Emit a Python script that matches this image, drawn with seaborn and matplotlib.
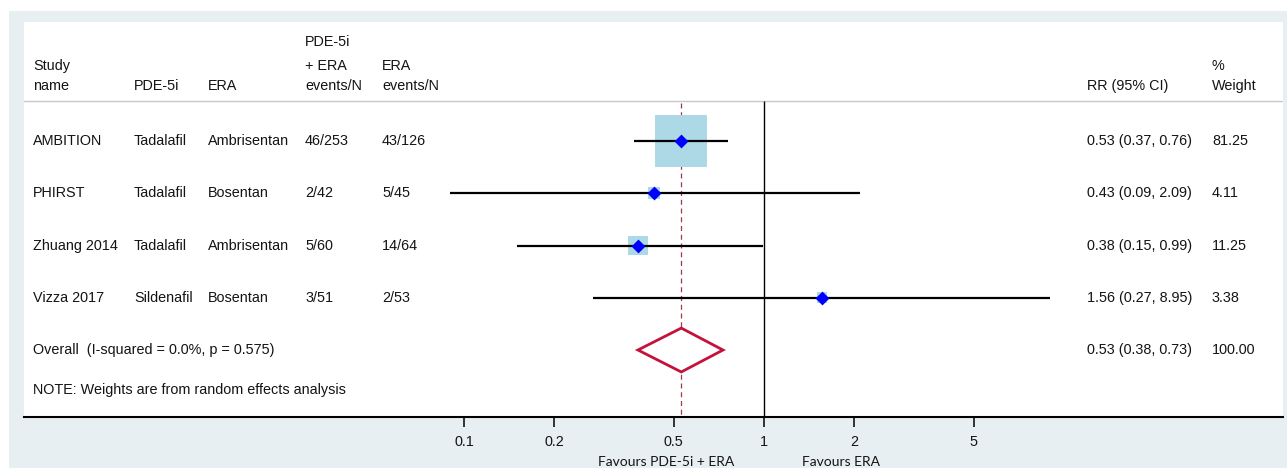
import matplotlib
matplotlib.use("Agg")
import matplotlib.pyplot as plt
from matplotlib.patches import Rectangle
import seaborn as sns
import pandas as pd

# ---- study data -------------------------------------------------------
studies = ["AMBITION", "PHIRST", "Zhuang 2014", "Vizza 2017"]
pde5i = ["Tadalafil", "Tadalafil", "Tadalafil", "Sildenafil"]
era = ["Ambrisentan", "Bosentan", "Ambrisentan", "Bosentan"]
combo_events = ["46/253", "2/42", "5/60", "3/51"]
era_events = ["43/126", "5/45", "14/64", "2/53"]
rr = [0.53, 0.43, 0.38, 1.56]
ci_low = [0.37, 0.09, 0.15, 0.27]
ci_high = [0.76, 2.09, 0.99, 8.95]
weight = [81.25, 4.11, 11.25, 3.38]

overall_rr = 0.53
overall_low = 0.38
overall_high = 0.73
overall_weight = 100.00
overall_label = "Overall  (I-squared = 0.0%, p = 0.575)"
note = "NOTE: Weights are from random effects analysis"

xticks = [0.1, 0.2, 0.5, 1, 2, 5]
xtick_labels = ["0.1", "0.2", "0.5", "1", "2", "5"]

df = pd.DataFrame({"study": studies, "rr": rr, "lo": ci_low, "hi": ci_high,
                   "weight": weight, "row": range(len(studies))})

# ---- figure -----------------------------------------------------------
sns.set_theme(style="white")
plt.rcParams["font.family"] = ["Liberation Sans", "DejaVu Sans"]

W, H = 1287, 468
fig = plt.figure(figsize=(W / 100, H / 100), dpi=100, facecolor="white")
fig.patches.append(Rectangle((9 / W, 0), (W - 9) / W, (H - 11) / H,
                             transform=fig.transFigure, facecolor="#e8eff2",
                             edgecolor="none", zorder=-5))

ax = fig.add_axes([24 / W, (H - 417) / H, 1259 / W, 395 / H])
ax.set_zorder(1)
ax.set_facecolor("white")
ax.set_xscale("log")
ax.set_xlim(10 ** (-740 / 300), 10 ** (519 / 300))
ax.set_ylim(5.282, -2.278)

txt_color = "#141414"
fs = 10.4

# weight boxes (area proportional to weight)
sns.scatterplot(data=df, x="rr", y="row", size="weight", sizes=(0, 1725),
                size_norm=(0, 100), marker="s", color="#add8e6", linewidth=0,
                legend=False, ax=ax, zorder=2)
# confidence intervals
ax.hlines(df["row"], df["lo"], df["hi"], color="black", lw=1.6, zorder=3)
# point estimates
sns.scatterplot(data=df, x="rr", y="row", marker="D", s=50, color="#0000ff",
                linewidth=0, legend=False, ax=ax, zorder=4)

# pooled estimate diamond
orow = len(studies)
ax.fill([overall_low, overall_rr, overall_high, overall_rr, overall_low],
        [orow, orow - 0.42, orow, orow + 0.42, orow],
        facecolor="white", edgecolor="#c5123b", lw=2.0, zorder=4)

# reference lines
sep = -0.766
ax.axhline(sep, color="#c8c8c8", lw=1.0, zorder=1)
ax.vlines(1, sep, 5.282, color="black", lw=1.0, zorder=1)
ax.vlines(overall_rr, sep + 0.04, 5.282, color="#9e3a48", lw=0.9,
          linestyles=(0, (4, 3)), zorder=1)

# axis styling
for s in ["top", "left", "right"]:
    ax.spines[s].set_visible(False)
ax.spines["bottom"].set_color("black")
ax.spines["bottom"].set_linewidth(1.5)
ax.set_xticks(xticks)
ax.set_xticklabels(xtick_labels)
ax.minorticks_off()
ax.set_yticks([])
ax.set_xlabel("")
ax.set_ylabel("")
ax.tick_params(axis="x", direction="out", length=7, width=1.1, pad=6,
               labelsize=fs, colors="black", labelcolor=txt_color, bottom=True)

# ---- table text -------------------------------------------------------
tr = ax.get_yaxis_transform()  # x in axes fraction, y in data


def col(px):
    return (px - 24) / 1259


cols = {"study": col(33), "pde": col(134), "era": col(208), "ce": col(305),
        "ee": col(382), "rr": col(1087), "w": col(1212)}

def put(x, y, s):
    ax.text(x, y, s, transform=tr, ha="left", va="center", fontsize=fs,
            color=txt_color)

h1, h2, h3 = -1.897, -1.437, -1.054
put(cols["ce"], h1, "PDE-5i")
put(cols["study"], h2, "Study")
put(cols["ce"], h2, "+ ERA")
put(cols["ee"], h2, "ERA")
put(cols["w"], h2, "%")
put(cols["study"], h3, "name")
put(cols["pde"], h3, "PDE-5i")
put(cols["era"], h3, "ERA")
put(cols["ce"], h3, "events/N")
put(cols["ee"], h3, "events/N")
put(cols["rr"], h3, "RR (95% CI)")
put(cols["w"], h3, "Weight")

for i in range(len(studies)):
    put(cols["study"], i, studies[i])
    put(cols["pde"], i, pde5i[i])
    put(cols["era"], i, era[i])
    put(cols["ce"], i, combo_events[i])
    put(cols["ee"], i, era_events[i])
    put(cols["rr"], i, f"{rr[i]:.2f} ({ci_low[i]:.2f}, {ci_high[i]:.2f})")
    put(cols["w"], i, f"{weight[i]:.2f}")

put(cols["study"], orow, overall_label)
put(cols["rr"], orow, f"{overall_rr:.2f} ({overall_low:.2f}, {overall_high:.2f})")
put(cols["w"], orow, f"{overall_weight:.2f}")
put(cols["study"], 4.77, note)

# direction labels under the axis
fig.text(666 / W, (H - 462) / H, "Favours PDE-5i + ERA", ha="center",
         va="center", fontsize=10, color=txt_color, family=["Lato", "DejaVu Sans"])
fig.text(841 / W, (H - 462) / H, "Favours ERA", ha="center",
         va="center", fontsize=10, color=txt_color, family=["Lato", "DejaVu Sans"])

fig.savefig("out.png", dpi=100, facecolor="white")
